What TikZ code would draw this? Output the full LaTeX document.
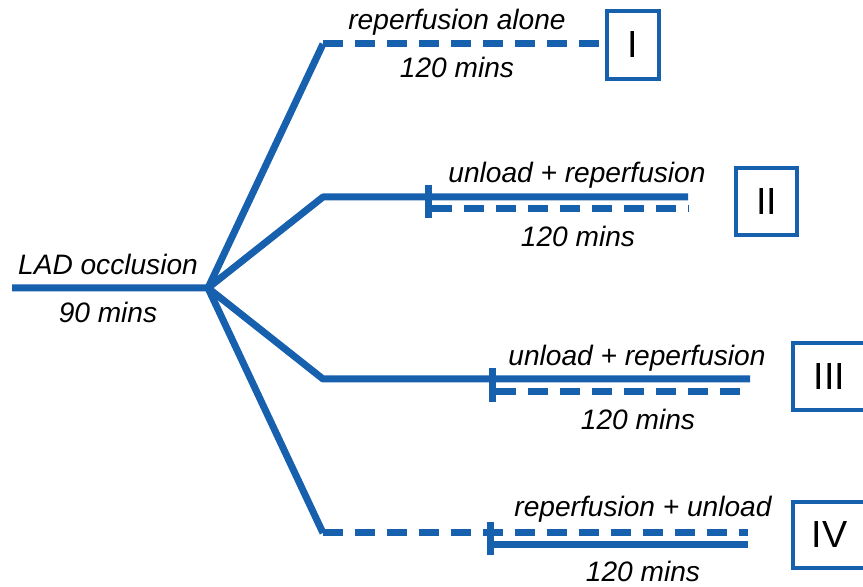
\documentclass[tikz,border=0pt]{standalone}
\usepackage{fontspec}
\setmainfont{Liberation Sans}
\usepackage{xcolor}
\usepackage{tikz}
\definecolor{lineblue}{RGB}{22,96,173}

\begin{document}
\begin{tikzpicture}[x=0.02cm,y=-0.02cm,
        armline/.style={draw=lineblue,line width=0.14cm,line join=round},
        dasharm/.style={armline,dash pattern=on 0.4cm off 0.24cm},
        lbl/.style={anchor=base,inner sep=0pt,font=\fontsize{16pt}{19pt}\selectfont\itshape},
        groupbox/.style={draw=lineblue,line width=0.065cm,inner sep=0pt,font=\fontsize{21.5pt}{24pt}\selectfont}]
        \useasboundingbox (0,0) rectangle (863,587);

        \coordinate (start) at (12,288);
        \coordinate (split) at (208,288);
        \coordinate (elbowI) at (323,44);
        \coordinate (elbowII) at (323,197);
        \coordinate (elbowIII) at (323,379);
        \coordinate (elbowIV) at (323,533);
        \coordinate (endI) at (602,44);
        \coordinate (endII) at (688,197);
        \coordinate (endIII) at (750,379);
        \coordinate (endIV) at (748,533);

        \draw[armline] (start) -- (split) -- (elbowII) -- (endII);
        \draw[armline] (split) -- (elbowIII) -- (endIII);
        \draw[armline] (split) -- (elbowI);
        \draw[armline] (split) -- (elbowIV);
        \draw[dasharm] (elbowI) -- (endI);
        \draw[dasharm] (elbowIV) -- (endIV);

        % unloading starts
        \draw[armline] (428,185) -- (428,218);
        \draw[dasharm] (432,209) -- (688,209);
        \draw[armline] (492,368) -- (492,402);
        \draw[dasharm] (496,392) -- (750,392);
        \draw[armline] (490,522) -- (490,555);
        \draw[armline] (490,545) -- (748,545);

        \node[lbl] (occl) at (108,275) {LAD occlusion};
        \node[lbl] (occlmins) at (108,323) {90 mins};
        \node[lbl] (topI) at (457,30) {reperfusion alone};
        \node[lbl] (minsI) at (457,78) {120 mins};
        \node[lbl] (topII) at (577,183) {unload + reperfusion};
        \node[lbl] (minsII) at (578,247) {120 mins};
        \node[lbl] (topIII) at (637,366) {unload + reperfusion};
        \node[lbl] (minsIII) at (638,430) {120 mins};
        \node[lbl] (topIV) at (643,517) {reperfusion + unload};
        \node[lbl] (minsIV) at (643,582) {120 mins};

        \node[groupbox,minimum width=1.04cm,minimum height=1.36cm] (grpI) at (633,45) {I};
        \node[groupbox,minimum width=1.22cm,minimum height=1.34cm] (grpII) at (766.5,201.5) {II};
        \node[groupbox,minimum width=1.46cm,minimum height=1.34cm] (grpIII) at (829.5,376.5) {III};
        \node[groupbox,minimum width=1.46cm,minimum height=1.32cm] (grpIV) at (829.5,535) {IV};
\end{tikzpicture}
\end{document}
